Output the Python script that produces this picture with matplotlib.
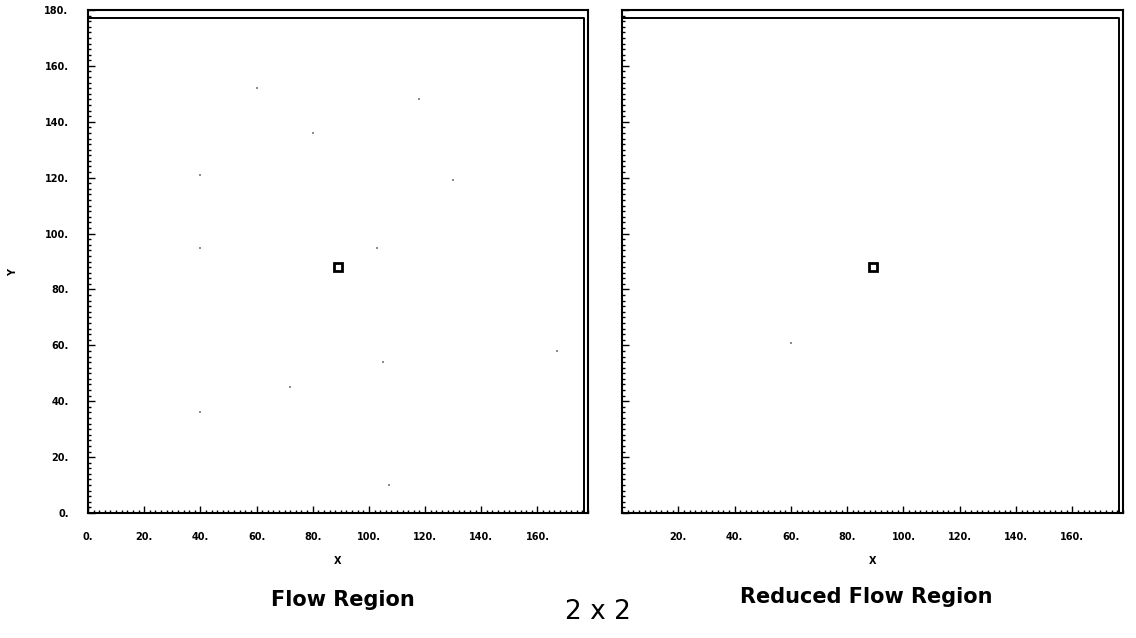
import numpy as np
import matplotlib.pyplot as plt
from matplotlib.ticker import MultipleLocator, FixedLocator

# Grid extent and boundary of the flow region
x_max = 178
y_max = 180
bound_x = 176.5
bound_y = 177

# the 2x2 cell
cell_x = [89]
cell_y = [88]

# faint specks seen on the scan of the left panel
speck_x = [60, 80, 118, 40, 40, 130, 103, 105, 72, 40, 107, 167]
speck_y = [152, 136, 148, 121, 95, 119, 95, 54, 45, 36, 10, 58]
# and the right panel
speck2_x = [60]
speck2_y = [61]

left_xticks = [0, 20, 40, 60, 80, 100, 120, 140, 160]
right_xticks = [20, 40, 60, 80, 100, 120, 140, 160]
yticks = [0, 20, 40, 60, 80, 100, 120, 140, 160, 180]

fig = plt.figure(figsize=(11.36, 6.38), dpi=100)
ax1 = fig.add_axes([88/1136, 125/638, 500/1136, 503/638])
ax2 = fig.add_axes([622/1136, 125/638, 501/1136, 503/638])

tick_font = dict(family='DejaVu Sans', weight='bold', size=7)

for ax, sx, sy, xt in [(ax1, speck_x, speck_y, left_xticks),
                       (ax2, speck2_x, speck2_y, right_xticks)]:
    ax.set_xlim(0, x_max)
    ax.set_ylim(0, y_max)
    for s in ax.spines.values():
        s.set_linewidth(1.5)
    # domain boundary drawn inside the frame
    ax.plot([0, bound_x, bound_x], [bound_y, bound_y, 0], color='black', lw=1.4)
    ax.scatter(sx, sy, s=1.5, color='0.55', marker='s', linewidths=0)
    ax.plot(cell_x, cell_y, marker='s', markersize=6, markerfacecolor='white',
            markeredgecolor='black', markeredgewidth=2, linestyle='none')
    ax.xaxis.set_major_locator(FixedLocator(xt))
    ax.yaxis.set_major_locator(FixedLocator(yticks))
    ax.xaxis.set_minor_locator(MultipleLocator(2))
    ax.yaxis.set_minor_locator(MultipleLocator(2))
    ax.tick_params(which='major', direction='in', length=5, width=1, pad=14)
    ax.tick_params(which='minor', direction='in', length=2.5, width=1)
    ax.tick_params(top=False, right=False, which='both')
    ax.set_xticklabels([f"{v}." for v in xt], fontdict=tick_font)
    ax.set_xlabel('X', fontsize=7, fontweight='bold', labelpad=10)

ax1.set_yticklabels([f"{v}." for v in yticks], fontdict=tick_font)
ax2.set_yticklabels([])
fig.text(13/1136, 1 - 272/638, 'Y', rotation=90, ha='center', va='center',
         fontsize=7, fontweight='bold')

fig.text(343/1136, 1 - 600/638, 'Flow Region', ha='center', va='center',
         fontsize=15, fontweight='bold')
fig.text(866/1136, 1 - 597/638, 'Reduced Flow Region', ha='center', va='center',
         fontsize=15, fontweight='bold')
fig.text(598/1136, 1 - 612/638, '2 x 2', ha='center', va='center', fontsize=19)

fig.savefig('out.png', dpi=100)
